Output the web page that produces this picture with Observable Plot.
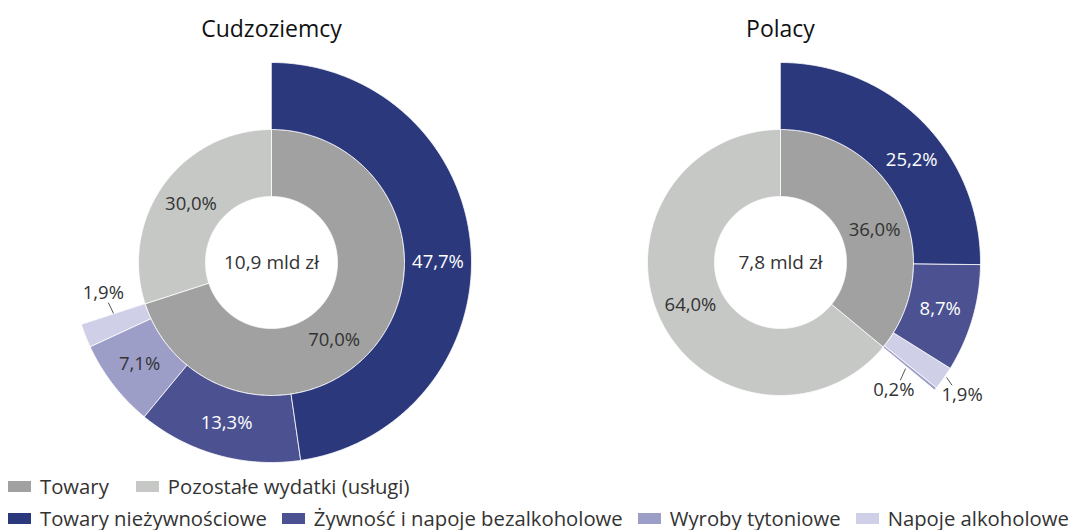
<!DOCTYPE html>
<html><head><meta charset="utf-8">
<script src="https://cdn.jsdelivr.net/npm/d3@7"></script>
<script src="https://cdn.jsdelivr.net/npm/@observablehq/plot@0.6"></script>
<style>
body{margin:0;background:#fff;font-family:"Open Sans",sans-serif;overflow:hidden;}
#legend{padding-left:8px;color:#333;font-size:20.3px;}
.row{display:flex;align-items:center;height:32px;white-space:nowrap;}
.item{display:flex;align-items:center;flex:none;}
.sw{width:23px;height:11px;margin-right:9px;}
.row1 .item{margin-right:27px;}
.row2 .item{margin-right:15px;}
</style></head><body><div id="chart"></div><div id="legend"></div>
<script>
const groups = ["Cudzoziemcy", "Polacy"];
const totals = ["10,9 mld zł", "7,8 mld zł"];
const innerCategories = ["Towary", "Pozostałe wydatki (usługi)"];
const innerCudzoziemcy = [70.0, 30.0];
const innerPolacy = [36.0, 64.0];
const outerCategories = ["Towary nieżywnościowe", "Żywność i napoje bezalkoholowe", "Wyroby tytoniowe", "Napoje alkoholowe"];
const outerCudzoziemcy = [47.7, 13.3, 7.1, 1.9];
const outerPolacy = [25.2, 8.7, 0.2, 1.9];
const innerColors = ["#a0a1a0", "#c6c8c6"];
const outerColors = ["#2b387c", "#4b5191", "#9d9ec8", "#cfd0e7"];

// ring radii in plot units (1 unit = outer radius)
const R = {inner: [0.33, 0.665], outer: [0.665, 1.0]};
const deg = Math.PI / 180;
const pol = (a, r) => [r * Math.sin(a * deg), r * Math.cos(a * deg)];

// label placement tweaks (layout only)
const angleOverride = {"Cudzoziemcy|Towary": 141, "Cudzoziemcy|Towary nieżywnościowe": 90,
  "Polacy|Towary": 71, "Polacy|Towary nieżywnościowe": 52};
const outside = {
  "Cudzoziemcy|Napoje alkoholowe": {label: [259.6, 0.855], leader: [[256.2, 0.84], [252.1, 0.83]]},
  "Polacy|Wyroby tytoniowe": {label: [138.5, 0.855], leader: [[134.5, 0.84], [130.3, 0.82]]},
  "Polacy|Napoje alkoholowe": {label: [126.2, 1.125], leader: [[124.7, 1.01], [125.6, 1.055]]}
};
const whiteText = new Set(["Towary nieżywnościowe", "Żywność i napoje bezalkoholowe"]);

const shapes = [], labels = [], leaders = [];
const fmt = v => v.toFixed(1).replace(".", ",") + "%";
function ring(group, cats, vals, radii) {
  const items = cats.map((c, i) => ({c, v: vals[i]}));
  let cum = 0;
  items.forEach(({c, v}) => {
    const a0 = cum / 100 * 360, a1 = (cum + v) / 100 * 360;
    cum += v;
    const key = group + "|" + c;
    const n = Math.max(2, Math.ceil((a1 - a0) / 0.5));
    const pts = [];
    for (let k = 0; k <= n; k++) pts.push(pol(a0 + (a1 - a0) * k / n, radii[1]));
    for (let k = n; k >= 0; k--) pts.push(pol(a0 + (a1 - a0) * k / n, radii[0]));
    pts.forEach(([x, y]) => shapes.push({group, key, category: c, x, y}));
    const o = outside[key];
    let lx, ly;
    if (o) {
      [lx, ly] = pol(o.label[0], o.label[1]);
      const [p, q] = o.leader.map(([a, r]) => pol(a, r));
      leaders.push({group, x1: p[0], y1: p[1], x2: q[0], y2: q[1]});
    } else {
      const am = angleOverride[key] ?? (a0 + a1) / 2;
      [lx, ly] = pol(am, (radii[0] + radii[1]) / 2);
    }
    labels.push({group, x: lx, y: ly, text: fmt(v), color: whiteText.has(c) && !o ? "#fff" : "#333"});
  });
}
const sortDesc = (cats, vals) => {
  const idx = d3.range(cats.length).sort((a, b) => vals[b] - vals[a]);
  return [idx.map(i => cats[i]), idx.map(i => vals[i])];
};
ring("Cudzoziemcy", innerCategories, innerCudzoziemcy, R.inner);
ring("Polacy", innerCategories, innerPolacy, R.inner);
ring("Cudzoziemcy", ...sortDesc(outerCategories, outerCudzoziemcy), R.outer);
ring("Polacy", ...sortDesc(outerCategories, outerPolacy), R.outer);

const chart = Plot.plot({
  width: 1078, height: 470,
  marginLeft: 51, marginRight: 78, marginTop: 50, marginBottom: 0,
  style: {fontFamily: "'Open Sans', sans-serif", background: "#fff"},
  fx: {domain: groups, paddingInner: 0.1356, paddingOuter: 0, label: null},
  x: {domain: [-1.1, 1.1], axis: null},
  y: {domain: [-1.04, 1.06], axis: null},
  color: {domain: [...innerCategories, ...outerCategories], range: [...innerColors, ...outerColors]},
  marks: [
    Plot.axisFx({anchor: "top", label: null, tickSize: 0, tickPadding: 14, fontSize: 23, fill: "#111"}),
    Plot.line(shapes, {fx: "group", x: "x", y: "y", z: "key", fill: "category", stroke: "#fff", strokeWidth: 0.8, curve: "linear-closed"}),
    Plot.link(leaders, {fx: "group", x1: "x1", y1: "y1", x2: "x2", y2: "y2", stroke: "#555", strokeWidth: 1}),
    Plot.text(labels, {fx: "group", x: "x", y: "y", text: "text", fill: "color", fontSize: 18.5}),
    Plot.text(groups, {fx: d => d, x: () => 0, y: () => 0, text: (d, i) => totals[i], fill: "#333", fontSize: 19})
  ]
});
document.getElementById("chart").appendChild(chart);

const legend = document.getElementById("legend");
[[innerCategories, innerColors, "row1"], [outerCategories, outerColors, "row2"]].forEach(([cats, cols, cls]) => {
  const row = document.createElement("div");
  row.className = "row " + cls;
  cats.forEach((c, i) => {
    const it = document.createElement("div");
    it.className = "item";
    it.innerHTML = `<span class="sw" style="background:${cols[i]}"></span><span>${c}</span>`;
    row.appendChild(it);
  });
  legend.appendChild(row);
});
</script></body></html>
